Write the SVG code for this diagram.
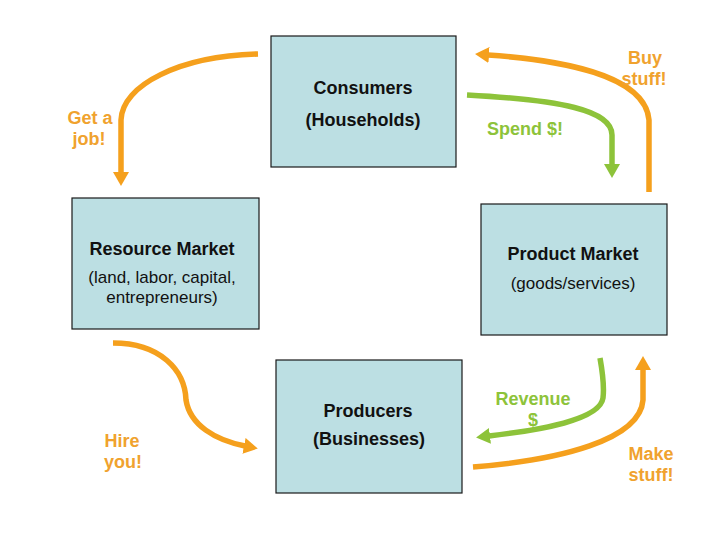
<svg xmlns="http://www.w3.org/2000/svg" width="720" height="540" viewBox="0 0 720 540">
<style>
.box{fill:#BCDFE3;stroke:#1a1a1a;stroke-width:1.2}
.t{font-family:"Liberation Sans",Arial,sans-serif;font-size:18px;font-weight:bold;fill:#111;text-anchor:middle}
.r{font-weight:normal;font-size:17px}
.lo{font-family:"Liberation Sans",Arial,sans-serif;font-size:18px;font-weight:bold;fill:#F0A22E;text-anchor:middle}
.lg{font-family:"Liberation Sans",Arial,sans-serif;font-size:18px;font-weight:bold;fill:#8DC33A;text-anchor:middle}
.ao{fill:none;stroke:#F5A01D;stroke-width:5.5;stroke-linecap:butt}
.ag{fill:none;stroke:#8DC33A;stroke-width:5.5;stroke-linecap:butt}
</style>
<defs>
<marker id="mo" markerUnits="userSpaceOnUse" viewBox="0 0 14 16" markerWidth="14" markerHeight="16" refX="1" refY="8" orient="auto"><path d="M0,0 L14,8 L0,16 z" fill="#F5A01D"/></marker>
<marker id="mg" markerUnits="userSpaceOnUse" viewBox="0 0 14 16" markerWidth="14" markerHeight="16" refX="1" refY="8" orient="auto"><path d="M0,0 L14,8 L0,16 z" fill="#8DC33A"/></marker>
</defs>
<rect width="720" height="540" fill="#fff"/>
<g id="consumers">
<rect class="box" x="271" y="36" width="185" height="131"/>
<text class="t" x="363" y="94">Consumers</text>
<text class="t" x="363" y="126">(Households)</text>
</g>
<g id="resource-market">
<rect class="box" x="72" y="198" width="187" height="131"/>
<text class="t" x="162" y="255">Resource Market</text>
<text class="t r" x="162" y="283">(land, labor, capital,</text>
<text class="t r" x="162" y="303">entrepreneurs)</text>
</g>
<g id="product-market">
<rect class="box" x="481" y="204" width="186" height="131"/>
<text class="t" x="573" y="260">Product Market</text>
<text class="t r" x="573" y="289">(goods/services)</text>
</g>
<g id="producers">
<rect class="box" x="276" y="360" width="186" height="133"/>
<text class="t" x="368" y="417">Producers</text>
<text class="t" x="369" y="445">(Businesses)</text>
</g>
<g id="connectors">
<path class="ao" d="M258 54 C180 56,122 85,121 120 L121 173" marker-end="url(#mo)"/>
<path class="ao" d="M649 192 L649 120 C645 75,560 60,488 55" marker-end="url(#mo)"/>
<path class="ag" d="M467 95 C560 100,612 110,612 135 L612 165" marker-end="url(#mg)"/>
<path class="ao" d="M113 343 C160 343,185 370,186 400 C190 425,215 440,245 446" marker-end="url(#mo)"/>
<path class="ag" d="M600 358 C603 375,604 390,603 398 C600 420,540 430,489 436" marker-end="url(#mg)"/>
<path class="ao" d="M473 467 C560 460,640 440,643 400 L643 369" marker-end="url(#mo)"/>
</g>
<g id="labels">
<text class="lo" x="90" y="124">Get a</text>
<text class="lo" x="89" y="145">job!</text>
<text class="lo" x="645" y="64">Buy</text>
<text class="lo" x="644" y="85">stuff!</text>
<text class="lg" x="525" y="135">Spend $!</text>
<text class="lo" x="122" y="447">Hire</text>
<text class="lo" x="123" y="468">you!</text>
<text class="lg" x="533" y="405">Revenue</text>
<text class="lg" x="533" y="426">$</text>
<text class="lo" x="651" y="460">Make</text>
<text class="lo" x="651" y="481">stuff!</text>
</g>
</svg>
